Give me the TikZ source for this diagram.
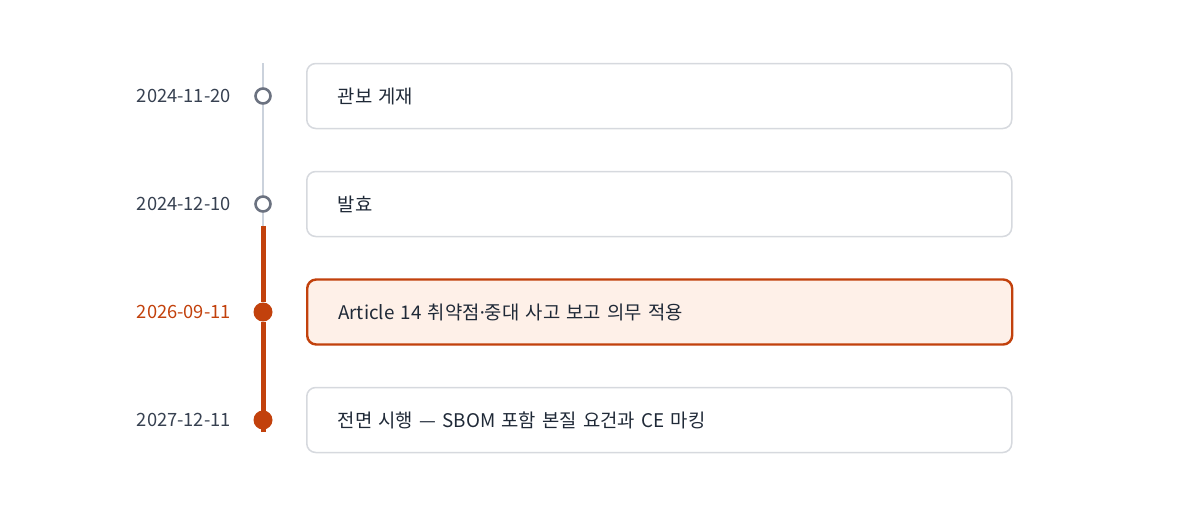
\documentclass[tikz,border=0pt]{standalone}
\usepackage{fontspec}
\setmainfont{Noto Sans CJK KR}
\newfontfamily\latinfont{Noto Sans}
\usetikzlibrary{positioning}
\definecolor{accent}{HTML}{C2410C}
\definecolor{accentfill}{HTML}{FEF0E8}
\definecolor{dotgray}{HTML}{6B7280}
\definecolor{railgray}{HTML}{CBD2DC}
\definecolor{boxline}{HTML}{D6D9DE}
\definecolor{datetext}{HTML}{374151}
\definecolor{bodytext}{HTML}{1F2937}
\tikzset{
    opendot/.style={circle, draw=dotgray, line width=2.6pt, fill=white, inner sep=0pt, minimum size=15pt},
    fulldot/.style={circle, fill=accent, inner sep=0pt, minimum size=19pt},
    datelabel/.style={anchor=east, inner xsep=0pt, font=\fontsize{18.3}{22}\selectfont, text=datetext},
    eventbox/.style={anchor=west, draw=boxline, line width=1.5pt, fill=white, rounded corners=9pt,
        minimum height=65pt, text width=643pt, inner xsep=31pt, align=left,
        font=\fontsize{18.8}{22}\selectfont, text=bodytext},
    keybox/.style={eventbox, draw=accent, line width=2.4pt, fill=accentfill}
}
\begin{document}
\begin{tikzpicture}[x=1pt, y=-1pt]
    \useasboundingbox (0,0) rectangle (1200,504);

    \coordinate (top) at (263,63);
    \coordinate (switch) at (263,226);
    \coordinate (bottom) at (263,432);

    \node [opendot] (D1) at (263,96) {};
    \node [opendot] (D2) at (263,204) {};
    \node [fulldot] (D3) at (263,312) {};
    \node [fulldot] (D4) at (263,420) {};

    % rail
    \draw [railgray, line width=2pt] (top) -- (D1); \draw [railgray, line width=2pt] (D1) -- (D2);
    \draw [railgray, line width=2pt] (D2) -- (switch);
    \draw [accent, line width=5pt] (switch) -- (D3); \draw [accent, line width=5pt] (D3) -- (bottom);

    \node [datelabel] (T1) at (231,96) {2024-11-20};
    \node [datelabel] (T2) at (231,204) {2024-12-10};
    \node [datelabel, text=accent] (T3) at (231,312) {2026-09-11};
    \node [datelabel] (T4) at (231,420) {2027-12-11};

    \node [eventbox] (E1) at (306,96) {관보 게재};
    \node [eventbox] (E2) at (306,204) {발효};
    \node [keybox] (E3) at (306,312) {Article 14 취약점{\latinfont ·}중대 사고 보고 의무 적용};
    \node [eventbox] (E4) at (306,420) {전면 시행 — SBOM 포함 본질 요건과 CE 마킹};
\end{tikzpicture}
\end{document}
